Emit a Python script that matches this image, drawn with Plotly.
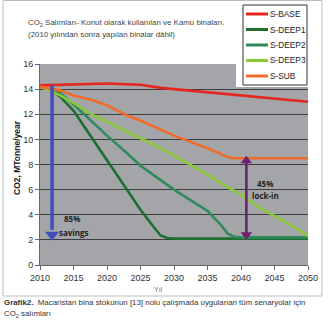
import plotly.graph_objects as go

# Emission scenarios, MTonne CO2 per year
base_years = [2010, 2015, 2020, 2025, 2028, 2030, 2034, 2040, 2045, 2050]
base_vals = [14.3, 14.4, 14.45, 14.35, 14.1, 14.0, 13.8, 13.5, 13.3, 13.0]

deep1_years = [2010, 2012, 2013, 2015, 2017, 2020, 2023, 2025, 2027, 2028, 2029, 2030, 2050]
deep1_vals = [14.2, 13.8, 13.4, 12.3, 10.7, 8.3, 5.9, 4.4, 3.0, 2.35, 2.15, 2.1, 2.1]

deep2_years = [2010, 2013, 2015, 2018, 2020, 2023, 2025, 2030, 2035, 2037, 2038, 2039, 2040, 2050]
deep2_vals = [14.2, 13.7, 12.8, 11.3, 10.3, 8.9, 7.9, 6.0, 4.3, 3.2, 2.5, 2.25, 2.2, 2.2]

deep3_years = [2010, 2013, 2015, 2018, 2020, 2023, 2025, 2028, 2030, 2033, 2035, 2038, 2040, 2043, 2045, 2048, 2050]
deep3_vals = [14.2, 13.5, 12.9, 11.9, 11.4, 10.6, 10.1, 9.3, 8.7, 7.8, 7.2, 6.2, 5.6, 4.5, 3.9, 3.0, 2.3]

sub_years = [2010, 2013, 2015, 2018, 2020, 2023, 2025, 2028, 2030, 2033, 2035, 2038, 2039, 2050]
sub_vals = [14.2, 13.9, 13.5, 13.1, 12.7, 11.9, 11.5, 10.8, 10.3, 9.7, 9.3, 8.6, 8.5, 8.5]

series_names = ["S-BASE", "S-DEEP1", "S-DEEP2", "S-DEEP3", "S-SUB"]
series_colors = ["#e52620", "#1e6e32", "#2f8a5c", "#8cc83c", "#f26a2a"]
series_data = [
    (base_years, base_vals),
    (deep1_years, deep1_vals),
    (deep2_years, deep2_vals),
    (deep3_years, deep3_vals),
    (sub_years, sub_vals),
]

# Annotated spans
savings_year = 2011.8
savings_top, savings_bottom = 14.3, 2.4
lockin_year = 2040.8
lockin_top, lockin_bottom = 8.3, 2.4

W, H = 330, 324
L, R, T, B = 40, 22, 64, 59
PW, PH = W - L - R, H - T - B


def px_x(px):
    return (px - L) / PW


def px_y(py):
    return (H - B - py) / PH


fig = go.Figure()
for name, color, (xs, ys) in zip(series_names, series_colors, series_data):
    fig.add_trace(go.Scatter(x=xs, y=ys, mode="lines", name=name,
                             line=dict(color=color, width=2.6)))

# savings arrow: shaft plus downward head
fig.add_trace(go.Scatter(x=[savings_year, savings_year], y=[savings_top, savings_bottom + 0.4],
                         mode="lines", line=dict(color="#3f4fc0", width=3.5),
                         showlegend=False, hoverinfo="skip"))
fig.add_trace(go.Scatter(x=[savings_year], y=[savings_bottom], mode="markers",
                         marker=dict(symbol="triangle-down", size=12, color="#3f4fc0"),
                         showlegend=False, hoverinfo="skip"))
# lock-in arrow: shaft plus heads at both ends
fig.add_trace(go.Scatter(x=[lockin_year, lockin_year], y=[lockin_top, lockin_bottom],
                         mode="lines", line=dict(color="#6e216f", width=2.6),
                         showlegend=False, hoverinfo="skip"))
fig.add_trace(go.Scatter(x=[lockin_year, lockin_year], y=[lockin_top, lockin_bottom],
                         mode="markers",
                         marker=dict(symbol=["triangle-up", "triangle-down"], size=10,
                                     color="#6e216f"),
                         showlegend=False, hoverinfo="skip"))

anns = []
lbl_font = dict(family="Open Sans, Arial", size=8, color="#222222")
anns.append(dict(x=2014.8, y=3.7, xref="x", yref="y", showarrow=False,
                 text="<b>85%</b>", font=lbl_font))
anns.append(dict(x=2015.1, y=2.55, xref="x", yref="y", showarrow=False,
                 text="<b>savings</b>", font=lbl_font))
anns.append(dict(x=2043.6, y=6.5, xref="x", yref="y", showarrow=False,
                 text="<b>45%</b>", font=lbl_font))
anns.append(dict(x=2043.6, y=5.5, xref="x", yref="y", showarrow=False,
                 text="<b>lock-in</b>", font=lbl_font))

# chart heading
head_font = dict(family="Liberation Sans, Arial", size=7.9, color="#444444")
anns.append(dict(x=px_x(26), y=px_y(23), xref="paper", yref="paper", showarrow=False,
                 xanchor="left", yanchor="middle", font=head_font,
                 text="CO<sub>2</sub> Salımları- Konut olarak kullanılan ve Kamu binaları."))
anns.append(dict(x=px_x(26), y=px_y(34), xref="paper", yref="paper", showarrow=False,
                 xanchor="left", yanchor="middle", font=head_font,
                 text="(2010 yılından sonra yapılan binalar dâhil)"))

# axis titles
anns.append(dict(x=px_x(17), y=px_y(158), xref="paper", yref="paper", showarrow=False,
                 textangle=-90, xanchor="center", yanchor="middle",
                 font=dict(family="Liberation Sans, Arial", size=8.5, color="#222222"),
                 text="<b>CO2, MTonne/year</b>"))
anns.append(dict(x=px_x(158), y=px_y(289), xref="paper", yref="paper", showarrow=False,
                 xanchor="center", yanchor="middle",
                 font=dict(family="Liberation Sans, Arial", size=7, color="#777777"),
                 text="Yıl"))

# figure caption
cap_font = dict(family="Liberation Sans, Arial", size=7.9, color="#333333")
anns.append(dict(x=px_x(2), y=px_y(302), xref="paper", yref="paper", showarrow=False,
                 xanchor="left", yanchor="middle", font=cap_font,
                 text="<b>Grafik2.</b>  Macaristan bina stokunun [13] nolu çalışmada uygulanan tüm senaryolar için"))
anns.append(dict(x=px_x(2), y=px_y(314), xref="paper", yref="paper", showarrow=False,
                 xanchor="left", yanchor="middle", font=cap_font,
                 text="CO<sub>2</sub> salımları"))

shapes = [
    # outer chart frame
    dict(type="rect", xref="paper", yref="paper",
         x0=px_x(3), x1=px_x(322), y0=px_y(296), y1=px_y(0.5),
         line=dict(color="#bdbdbd", width=1), fillcolor="rgba(0,0,0,0)", layer="below"),
    # white area around the key
    dict(type="rect", xref="paper", yref="paper",
         x0=px_x(236), x1=px_x(309), y0=px_y(87), y1=px_y(63),
         line=dict(width=0), fillcolor="white", layer="above"),
    # key frame
    dict(type="rect", xref="paper", yref="paper",
         x0=px_x(243), x1=px_x(307), y0=px_y(85), y1=px_y(5),
         line=dict(color="#333333", width=1), fillcolor="white", layer="above"),
]

# series key: sample line and name for each scenario
key_font = dict(family="Liberation Sans, Arial", size=8.3, color="#222222")
for i, (name, color) in enumerate(zip(series_names, series_colors)):
    ky = 14 + i * 15.5
    shapes.append(dict(type="line", xref="paper", yref="paper",
                       x0=px_x(246), x1=px_x(268), y0=px_y(ky), y1=px_y(ky),
                       line=dict(color=color, width=3), layer="above"))
    anns.append(dict(x=px_x(268), y=px_y(ky), xref="paper", yref="paper",
                     showarrow=False, xanchor="left", yanchor="middle",
                     font=key_font, text=name))

fig.update_layout(
    width=W, height=H,
    margin=dict(l=L, r=R, t=T, b=B, pad=0),
    paper_bgcolor="white",
    plot_bgcolor="#a3a5a8",
    showlegend=False,
    annotations=anns,
    shapes=shapes,
    font=dict(family="Liberation Sans, Arial"),
)
fig.update_xaxes(range=[2010, 2050], dtick=5, tick0=2010, showgrid=False,
                 showline=True, linecolor="#666666", linewidth=1,
                 ticks="outside", ticklen=4, tickcolor="#666666",
                 tickfont=dict(size=9, color="#333333"), zeroline=False, fixedrange=True)
fig.update_yaxes(range=[0, 16], dtick=2, showgrid=True, gridcolor="#3e3e3e", gridwidth=1,
                 showline=True, linecolor="#666666", linewidth=1,
                 ticks="outside", ticklen=4, tickcolor="#666666",
                 tickfont=dict(size=9, color="#333333"), zeroline=False, fixedrange=True)

fig.write_html("out.html")
